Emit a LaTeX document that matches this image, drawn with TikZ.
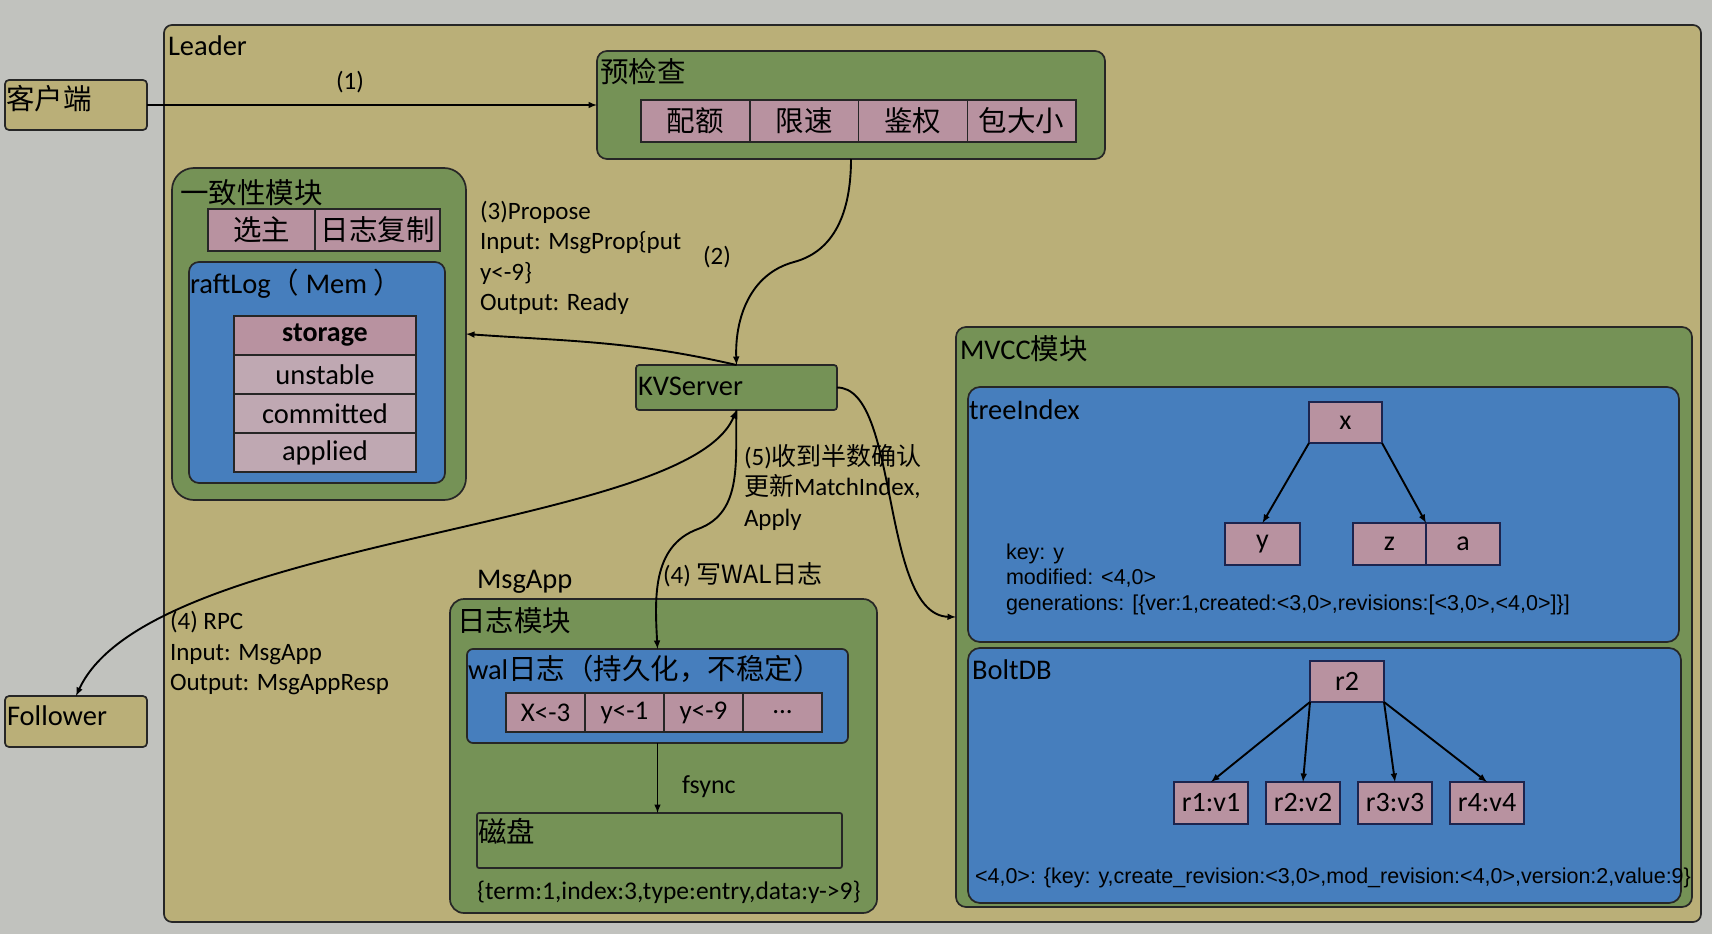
\documentclass[tikz,border=0pt]{standalone}
\usepackage{fontspec}
\setmainfont{Carlito}
\newfontfamily\cjk{Noto Sans CJK SC}
\newfontfamily\narrow{Liberation Sans}
\usetikzlibrary{arrows,positioning,calc}

\definecolor{bggray}{RGB}{193,194,190}
\definecolor{leadtan}{RGB}{186,175,120}
\definecolor{modgreen}{RGB}{117,146,86}
\definecolor{logblue}{RGB}{70,126,189}
\definecolor{cellpink}{RGB}{184,146,160}
\definecolor{rowpink}{RGB}{191,168,178}
\definecolor{nodeline}{RGB}{28,36,78}

\begin{document}
\begin{tikzpicture}[x=1pt, y=-1pt,
  every node/.style = {inner sep=0pt, outer sep=0pt},
  wh/.style 2 args  = {minimum width=#1pt, minimum height=#2pt},
  box/.style   = {draw=black!85, line width=1.7pt, anchor=north west},
  lbox/.style  = {box, fill=leadtan, rounded corners=4pt},
  gbox/.style  = {box, fill=modgreen, rounded corners=10pt},
  bbox/.style  = {box, fill=logblue, rounded corners=10pt},
  cell/.style  = {box, fill=cellpink, line width=1.5pt,
                  font=\fontsize{28.5}{30}\selectfont},
  row/.style   = {cell, fill=rowpink},
  tnode/.style = {cell, draw=nodeline, font=\fontsize{28}{30}\selectfont},
  ttl/.style   = {anchor=west, font=\fontsize{28.5}{30}\selectfont},
  txt/.style   = {anchor=west, align=left, font=\fontsize{25}{30.5}\selectfont},
  ktxt/.style  = {anchor=west, align=left, font=\narrow\fontsize{21.5}{25.5}\selectfont},
  ar/.style    = {-latex, line width=1.9pt, black},
]

\fill[bggray] (0,0) rectangle (1712,934);
\useasboundingbox (0,0) rectangle (1712,934);

% =========================== outer boxes ===================================
\node[lbox, wh={1537}{897}, rounded corners=8pt] (lead) at (164,25) {};
\node[ttl] (lead-t) at (168,46) {Leader};

\node[lbox, wh={142}{50}] (cli) at (5,80) {};
\node[ttl] (cli-t) at (6,99) {\cjk 客户端};

\node[lbox, wh={142}{51}] (fol) at (5,696) {};
\node[ttl] (fol-t) at (7,716) {Follower};

% =========================== pre-check =====================================
\node[gbox, wh={508}{108}] (pre) at (597,51) {};
\node[ttl] (pre-t) at (600,72) {\cjk 预检查};
\foreach \t [count=\i from 0] in {配额,限速,鉴权,包大小}
  \node[cell, wh={108.75}{42}] (pc\i) at ({641+108.75*\i},100) {\cjk \t};

% =========================== consensus module ==============================
\node[gbox, wh={294}{332}, rounded corners=22pt] (cons) at (172,168) {};
\node[ttl] (cons-t) at (180,193) {\cjk 一致性模块};
\node[cell, wh={107}{42}] (elect) at (208,209) {\cjk 选主};
\node[cell, wh={125}{42}] (repl)  at (315,209) {\cjk 日志复制};

\node[bbox, wh={256}{221}] (raft) at (189,262) {};
\node[ttl] (raft-t) at (190,284) {raftLog{\cjk （} Mem {\cjk ）}};
\node[cell, wh={182}{39}, font=\fontsize{28}{30}\selectfont\bfseries] (stor) at (234,316) {storage};
\node[row, wh={182}{39}] (unst) at (234,355) {unstable};
\node[row, wh={182}{39}] (comm) at (234,394) {committed};
\node[row, wh={182}{39}] (appl) at (234,433) {applied};

% =========================== KVServer ======================================
\node[gbox, wh={201}{45}, rounded corners=3pt] (kv) at (636,365) {};
\node[ttl] (kv-t) at (638,386) {KVServer};

% =========================== log module ====================================
\node[gbox, wh={427}{314}, rounded corners=14pt] (logm) at (450,599) {};
\node[ttl] (logm-t) at (457,621) {\cjk 日志模块};

\node[bbox, wh={381}{94}, rounded corners=6pt] (wal) at (467,649) {};
\node[ttl] (wal-t) at (468,669) {wal{\cjk 日志（持久化，不稳定）}};
\node[cell, wh={79}{39}, font=\fontsize{27}{30}\selectfont] (wc0) at (506,693) {X<-3};
\node[cell, wh={79}{39}, font=\fontsize{27}{30}\selectfont] (wc1) at (585,693) {y<-1};
\node[cell, wh={79}{39}, font=\fontsize{27}{30}\selectfont] (wc2) at (664,693) {y<-9};
\node[cell, wh={79}{39}, font=\fontsize{27}{30}\selectfont] (wc3) at (743,693) {...};

\node[box, fill=modgreen, wh={365}{55}, rounded corners=2pt] (disk) at (477,813) {};
\node[ttl] (disk-t) at (478,831) {\cjk 磁盘};
\node[txt, font=\fontsize{25.5}{30}\selectfont] (term) at (477,892) {\{term:1,index:3,type:entry,data:y->9\}};

% =========================== MVCC module ===================================
\node[gbox, wh={736}{580}] (mvcc) at (956,327) {};
\node[ttl] (mvcc-t) at (960,349) {MVCC{\cjk 模块}};

\node[bbox, wh={711}{255}, rounded corners=12pt] (tree) at (968,387) {};
\node[ttl] (tree-t) at (969,410) {treeIndex};
\node[tnode, wh={73}{41}] (tx) at (1309,402) {x};
\node[tnode, wh={75}{42}] (ty) at (1225,523) {y};
\node[tnode, wh={73}{42}] (tz) at (1353,523) {z};
\node[tnode, wh={74}{42}] (ta) at (1426,523) {a};
\node[ktxt] (keyv) at (1006,579)
  {key: y\\modified: <4,0>\\generations: [\{ver:1,created:<3,0>,revisions:[<3,0>,<4,0>]\}]};

\node[bbox, wh={713}{255}, rounded corners=12pt] (bolt) at (968,648) {};
\node[ttl] (bolt-t) at (972,670) {BoltDB};
\node[tnode, wh={74}{41}] (r2) at (1310,661) {r2};
\node[tnode, wh={74}{42}] (lf0) at (1174,782) {r1:v1};
\node[tnode, wh={74}{42}] (lf1) at (1266,782) {r2:v2};
\node[tnode, wh={74}{42}] (lf2) at (1358,782) {r3:v3};
\node[tnode, wh={74}{42}] (lf3) at (1450,782) {r4:v4};
\node[ktxt] (rec) at (975,878)
  {<4,0>: \{key: y,create\_revision:<3,0>,mod\_revision:<4,0>,version:2,value:9\}};

% =========================== labels ========================================
\node[txt, anchor=center] (n1) at (350,82) {(1)};
\node[txt, anchor=center] (n2) at (717,257) {(2)};
\node[txt] (n3) at (480,258) {(3)Propose\\Input: MsgProp\{put\\y<-9\}\\Output: Ready};
\node[txt] (n5) at (744,487) {(5){\cjk 收到半数确认}\\{\cjk 更新}MatchIndex,\\Apply};
\node[txt] (n4w) at (663,575) {(4) {\cjk 写WAL日志}};
\node[ttl] (msga) at (477,582) {MsgApp};
\node[txt] (n4r) at (170,653) {(4) RPC\\Input: MsgApp\\Output: MsgAppResp};
\node[txt, font=\fontsize{26}{30}\selectfont] (fsy) at (682,787) {fsync};

% =========================== arrows ========================================
\coordinate (b2) at (794,262);
\coordinate (b4) at (698,529);

\draw[ar] (cli) -- (pre);
\draw[ar] (pre.south) to[out=-90,in=15] (b2) to[out=195,in=92] (kv.north);
\draw[ar] (kv.north) to[out=167,in=-4] (cons.east);
\draw[ar] (kv.east) .. controls +(63,0) and +(-76,-2) .. (mvcc.west);
\draw[latex-latex, line width=1.9pt] (kv.south) .. controls +(-50,120) and +(74,-160) .. (fol.north);
\draw[ar] (kv.south) to[out=-92,in=20] (b4) to[out=200,in=93] (wal.north);
\draw[ar] (wal.south) -- (wal.south |- disk.north);

\draw[ar] (tx.south west) -- (ty.north);
\draw[ar] (tx.south east) -- (tz.north east);
\draw[ar] (r2.south west) -- (lf0.north);
\draw[ar] (r2.south west) -- (lf1.north);
\draw[ar] (r2.south east) -- (lf2.north);
\draw[ar] (r2.south east) -- (lf3.north);

\end{tikzpicture}
\end{document}
